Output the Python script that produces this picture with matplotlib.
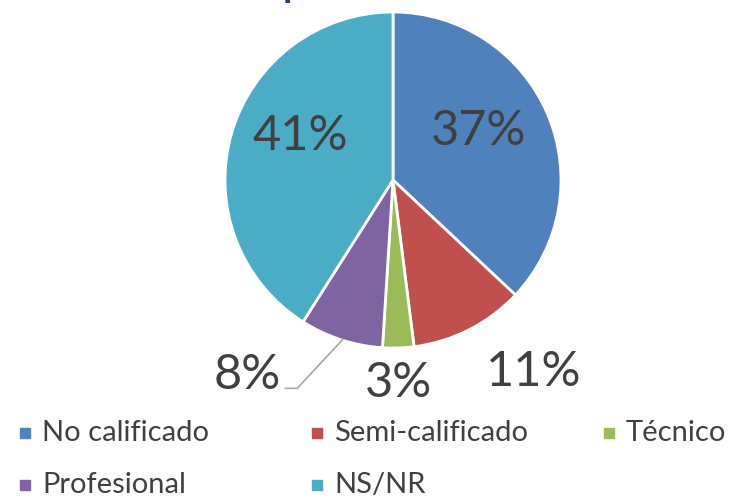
import matplotlib.pyplot as plt
from matplotlib.patches import Rectangle

categories = ['No calificado', 'Semi-calificado', 'Técnico', 'Profesional', 'NS/NR']
values = [37, 11, 3, 8, 41]
colors = ['#4F81BD', '#C0504D', '#9BBB59', '#8064A2', '#4BACC6']
# label centres in pie units (radius = 1)
label_pos = [(0.51, 0.29), (0.84, -1.14), (0.035, -1.21), (-0.865, -1.16), (-0.55, 0.26)]

plt.rcParams['font.family'] = ['Lato', 'DejaVu Sans']
W, H = 729, 498
fig = plt.figure(figsize=(W / 100, H / 100), dpi=100)

cx, cy, r = 393, 180, 168
ax = fig.add_axes([(cx - r) / W, (H - cy - r) / H, 2 * r / W, 2 * r / H])
wedges, _ = ax.pie(values, colors=colors, startangle=90, counterclock=False,
                   wedgeprops=dict(edgecolor='white', linewidth=2))
ax.set_xlim(-1, 1)
ax.set_ylim(-1, 1)
ax.set_aspect('equal')
ax.axis('off')

for v, (x, y) in zip(values, label_pos):
    ax.text(x, y, f'{v}%', ha='center', va='center', fontsize=35, color='#404040')

# leader line for the 8% label
ax.plot([-0.64, -0.57, -0.3], [-1.24, -1.24, -0.95], color='#A6A6A6', lw=1.2,
        clip_on=False)

# cut-off title fragment at the top
fig.text(283 / W, (H + 3) / H, 'p', va='baseline', ha='left', fontsize=28,
         color='#1F497D', fontweight='bold')

# legend, row-wise like the original
leg_x = [20, 312, 604]
leg_y = [433, 485]
for i, (name, c) in enumerate(zip(categories, colors)):
    row, col = divmod(i, 3)
    x, y = leg_x[col], leg_y[row]
    fig.add_artist(Rectangle((x / W, (H - y - 5) / H), 10 / W, 10 / H,
                             transform=fig.transFigure, color=c))
    fig.text((x + 22) / W, (H - y) / H, name, va='center', ha='left',
             fontsize=21, color='#404040')

fig.savefig('out.png', dpi=100)
